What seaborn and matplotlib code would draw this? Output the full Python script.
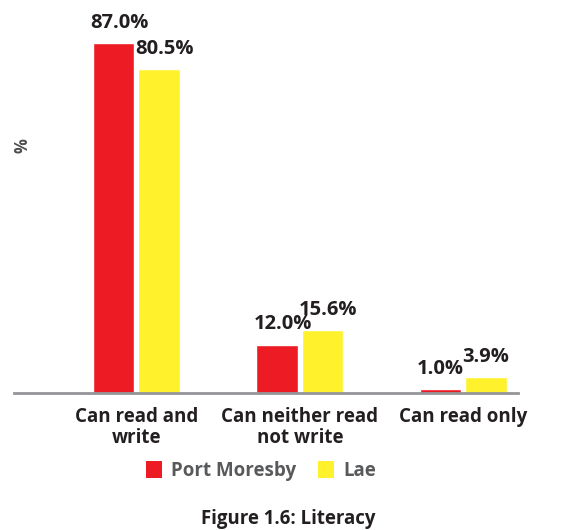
import seaborn as sns
import matplotlib.pyplot as plt
import pandas as pd
from matplotlib.patches import Patch

sns.set_style("white")
plt.rcParams['font.family'] = ['Open Sans', 'DejaVu Sans']
plt.rcParams['font.weight'] = 'bold'

# data
categories = ["Can read and\nwrite", "Can neither read\nnot write", "Can read only"]
cities = ["Port Moresby", "Lae"]
port_moresby = [87.0, 12.0, 1.0]
lae = [80.5, 15.6, 3.9]
colors = ["#ED1C24", "#FFF22D"]
text_dark = "#231F20"
text_grey = "#58595B"

df = pd.DataFrame({
    "category": categories * 2,
    "city": [cities[0]] * 3 + [cities[1]] * 3,
    "value": port_moresby + lae,
})

fig = plt.figure(figsize=(5.63, 5.30), dpi=100)
ax = fig.add_axes([14 / 563, 1 - 393 / 530, 503.7 / 563, 382 / 530])

sns.barplot(
    data=df, x="category", y="value", hue="city",
    order=categories, hue_order=cities, palette=colors,
    width=0.557, gap=0.09, saturation=1, legend=False, ax=ax,
)

ax.set_ylim(0, 95)
ax.set_xlim(-0.748, 2.333)
ax.set_xlabel("")
ax.set_ylabel("")
ax.set_yticks([])
for s in ["top", "left", "right"]:
    ax.spines[s].set_visible(False)
ax.spines["bottom"].set_color("#939598")
ax.spines["bottom"].set_linewidth(2)
ax.tick_params(axis="x", length=0, pad=10, labelsize=13.5, labelcolor=text_dark)
for lbl in ax.get_xticklabels():
    lbl.set_fontweight("bold")
    lbl.set_linespacing(1.1)

# value labels
for cont, vals in zip(ax.containers, [port_moresby, lae]):
    for bar, v in zip(cont, vals):
        ax.annotate(f"{v:.1f}%", xy=(bar.get_x(), bar.get_height()),
                    xytext=(-2, 11), textcoords="offset points",
                    ha="left", va="baseline", fontsize=14.5,
                    fontweight="bold", color=text_dark)

fig.text(22 / 563, 1 - 146 / 530, "%", rotation=90, ha="center", va="center",
         fontsize=12, fontweight="bold", color="#4D4D4F")

handles = [Patch(facecolor=c, edgecolor="none") for c in colors]
fig.legend(handles, cities, loc="center", bbox_to_anchor=(261 / 563, 1 - 471 / 530),
           ncol=2, frameon=False, handlelength=0.85, handleheight=1.0,
           handletextpad=0.5, columnspacing=1.18, labelcolor=text_grey,
           prop={"size": 13.5, "weight": "bold"})

fig.text(288 / 563, 1 - 519 / 530, "Figure 1.6: Literacy", ha="center", va="center",
         fontsize=13.4, fontweight="bold", color=text_dark)

plt.savefig("out.png", dpi=100)
